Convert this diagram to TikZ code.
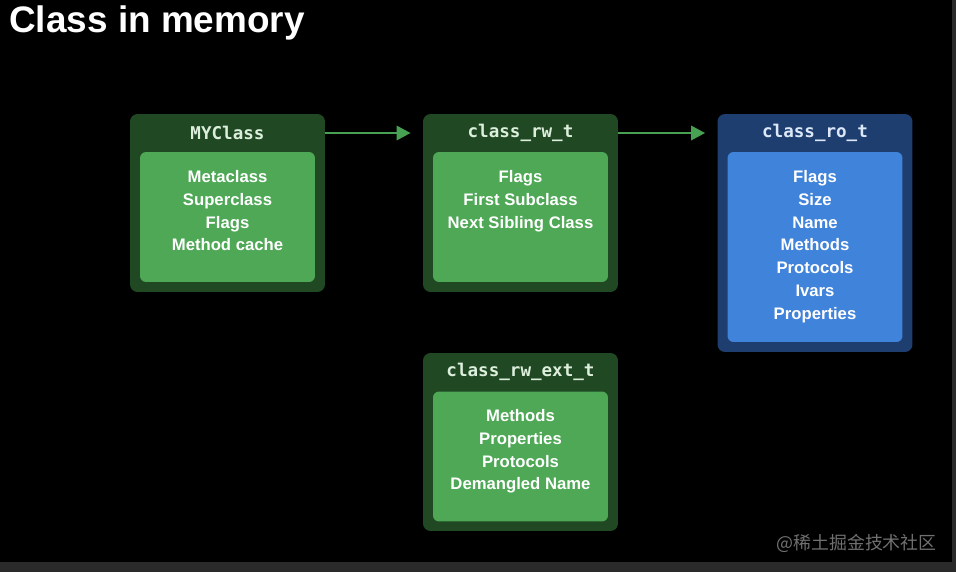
\documentclass[tikz,border=0pt]{standalone}
\usepackage{fontspec}
\setmainfont{Liberation Sans}
\setmonofont{DejaVu Sans Mono}
\newfontfamily\cjkfont{Noto Sans CJK SC}
\usetikzlibrary{arrows.meta}

\definecolor{framegray}{RGB}{42,42,42}
\definecolor{outergreen}{RGB}{31,72,35}
\definecolor{innergreen}{RGB}{78,168,86}
\definecolor{outerblue}{RGB}{30,62,112}
\definecolor{innerblue}{RGB}{64,131,218}
\definecolor{arrowgreen}{RGB}{72,160,82}
\definecolor{titlegreen}{RGB}{220,238,220}
\definecolor{titleblue}{RGB}{220,232,248}
\definecolor{markgray}{RGB}{112,112,112}

\begin{document}
\begin{tikzpicture}[x=0.02cm, y=-0.02cm,
    outerbox/.style={draw=none, rounded corners=0.15cm, minimum width=3.9cm, inner sep=0pt},
    innerbox/.style={draw=none, rounded corners=0.12cm, minimum width=3.5cm, inner sep=0pt},
    boxtitle/.style={font=\ttfamily\bfseries\fontsize{10}{12}\selectfont, inner sep=0pt},
    boxbody/.style={anchor=north, align=center, text=white, inner sep=0pt,
        font=\bfseries\fontsize{9.5}{13}\selectfont},
    flow/.style={draw=arrowgreen, line width=1.7pt, -{Triangle[length=0.28cm,width=0.28cm]}}]

% frame and background
\fill [framegray] (0,0) rectangle (956,572);
\fill [black] (0,0) rectangle (952,562);

\node [anchor=base west, text=white, inner sep=0pt, font=\bfseries\fontsize{21}{25}\selectfont] (heading) at (9,32) {Class in memory};

% MYClass
\node [outerbox, fill=outergreen, minimum height=3.56cm] (myclass) at (227.5,203) {};
\node [innerbox, fill=innergreen, minimum height=2.6cm] (myinner) at (227.5,217) {};
\node [boxtitle, text=titlegreen] (mytitle) at (227.5,133) {MYClass};
\node [boxbody] (mybody) at (227.5,170) {Metaclass\\Superclass\\Flags\\Method cache};

% class_rw_t
\node [outerbox, fill=outergreen, minimum height=3.56cm] (rw) at (520.5,203) {};
\node [innerbox, fill=innergreen, minimum height=2.6cm] (rwinner) at (520.5,217) {};
\node [boxtitle, text=titlegreen] (rwtitle) at (520.5,133) {class\_rw\_t};
\node [boxbody] (rwbody) at (520.5,170) {Flags\\First Subclass\\Next Sibling Class};

% class_ro_t
\node [outerbox, fill=outerblue, minimum height=4.76cm] (ro) at (815,233) {};
\node [innerbox, fill=innerblue, minimum height=3.8cm] (roinner) at (815,247) {};
\node [boxtitle, text=titleblue] (rotitle) at (815,133) {class\_ro\_t};
\node [boxbody] (robody) at (815,170) {Flags\\Size\\Name\\Methods\\Protocols\\Ivars\\Properties};

% class_rw_ext_t
\node [outerbox, fill=outergreen, minimum height=3.56cm] (ext) at (520.5,442) {};
\node [innerbox, fill=innergreen, minimum height=2.6cm] (extinner) at (520.5,456.5) {};
\node [boxtitle, text=titlegreen] (exttitle) at (520.5,372) {class\_rw\_ext\_t};
\node [boxbody] (extbody) at (520.5,409) {Methods\\Properties\\Protocols\\Demangled Name};

\draw [flow] (myclass.east |- mytitle) -- ([xshift=-0.24cm]rw.west |- mytitle);
\draw [flow] (rw.east |- rwtitle) -- ([xshift=-0.24cm]ro.west |- rwtitle);

\node [anchor=base west, text=markgray, inner sep=0pt, font=\cjkfont\fontsize{10.2}{12}\selectfont] (mark) at (776,549) {@稀土掘金技术社区};
\end{tikzpicture}
\end{document}
